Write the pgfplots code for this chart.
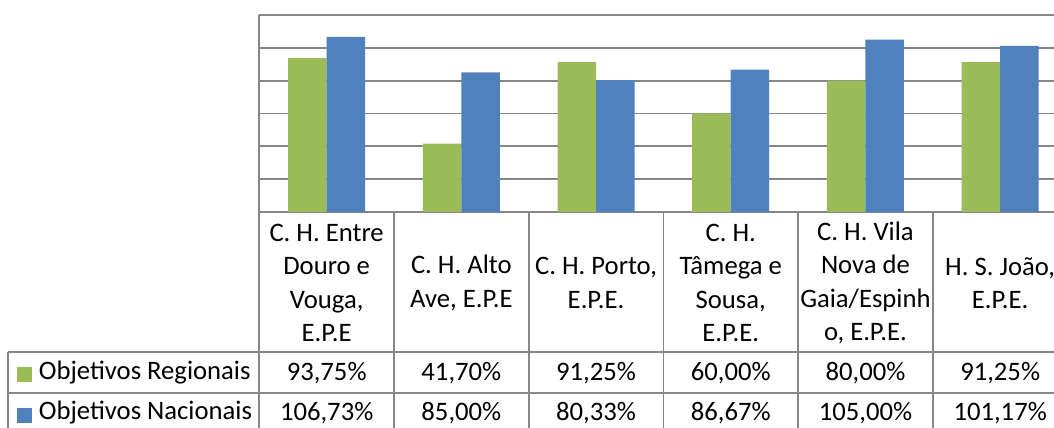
\documentclass[border=0pt]{standalone}
\usepackage{fontspec}
\setmainfont{Carlito}
\usepackage{pgfplots}
\pgfplotsset{compat=1.18}
\definecolor{verde}{HTML}{9BBB59}
\definecolor{azul}{HTML}{4F81BD}
\definecolor{linha}{HTML}{868686}
\begin{document}
\begin{tikzpicture}
% picture is 1054 x 428 px, 1 px = 0.75pt
\path[use as bounding box] (0pt,0pt) rectangle (790.5pt,-321pt);
\clip (0pt,0pt) rectangle (790.5pt,-321pt);
\begin{axis}[
  at={(194.475pt,-159pt)}, anchor=south west,
  scale only axis, width=596pt, height=147.75pt,
  xmin=-0.5, xmax=5.4, ymin=0, ymax=120,
  axis x line*=bottom, axis y line*=left,
  axis line style={linha, line width=1.3pt},
  ytick={20,40,...,120}, yticklabels={},
  xtick=\empty, major tick length=0pt,
  ymajorgrids, grid style={linha, line width=1.3pt},
  clip=false,
]
% Objetivos Regionais
\addplot[ybar, bar width=0.286, bar shift=-0.143, fill=verde, draw=none] coordinates {
(0,93.75)(1,41.70)(2,91.25)(3,60.00)(4,80.00)(5,91.25)
};
% Objetivos Nacionais
\addplot[ybar, bar width=0.286, bar shift=0.143, fill=azul, draw=none] coordinates {
(0,106.73)(1,85.00)(2,80.33)(3,86.67)(4,105.00)(5,101.17)
};
\end{axis}
% data table below the plot, in pixel coordinates
\begin{scope}[x=0.75pt, y=-0.75pt, line width=1.3pt]
  \foreach \k in {0,...,6}
    \draw[linha] ({259.3+134.7*\k},212) -- ({259.3+134.7*\k},430);
  \draw[linha] (8,352) -- (1054,352);
  \draw[linha] (8,392.7) -- (1054,392.7);
  \draw[linha] (8,352) -- (8,430);
  \begin{scope}[every node/.style={font=\fontsize{20}{25.1}\selectfont, align=center, inner sep=0pt}]
    \node at (326.65,283) {C. H. Entre\\Douro e\\Vouga,\\E.P.E};
    \node at (461.35,283) {C. H. Alto\\Ave, E.P.E};
    \node at (596.05,283) {C. H. Porto,\\E.P.E.};
    \node at (730.75,283) {C. H.\\Tâmega e\\Sousa,\\E.P.E.};
    \node at (865.45,283) {C. H. Vila\\Nova de\\Gaia/Espinh\\o, E.P.E.};
    \node at (1000.15,283) {H. S. João,\\E.P.E.};
    % row 1
    \node at (326.65,373) {93,75\%};
    \node at (461.35,373) {41,70\%};
    \node at (596.05,373) {91,25\%};
    \node at (730.75,373) {60,00\%};
    \node at (865.45,373) {80,00\%};
    \node at (1000.15,373) {91,25\%};
    % row 2
    \node at (326.65,413) {106,73\%};
    \node at (461.35,413) {85,00\%};
    \node at (596.05,413) {80,33\%};
    \node at (730.75,413) {86,67\%};
    \node at (865.45,413) {105,00\%};
    \node at (1000.15,413) {101,17\%};
    % legend keys
    \fill[verde] (17,367) rectangle (32,382);
    \fill[azul] (17,407.7) rectangle (32,422.7);
    \node[anchor=west] at (38,373) {Objetivos Regionais};
    \node[anchor=west] at (38,413) {Objetivos Nacionais};
  \end{scope}
\end{scope}
\end{tikzpicture}
\end{document}
